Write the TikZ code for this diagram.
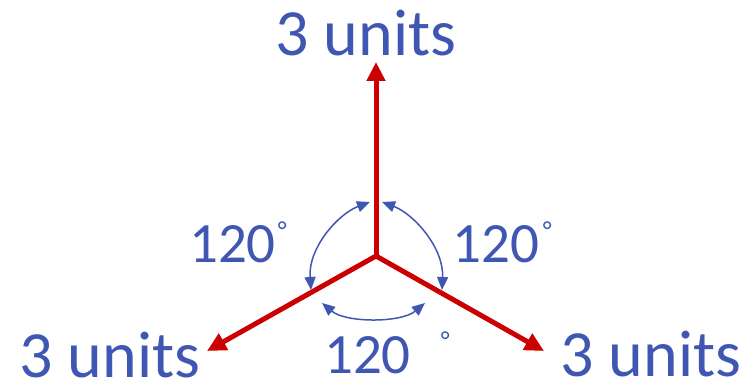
\documentclass[tikz,border=0pt]{standalone}
\usepackage{fontspec}
\setmainfont{Carlito}
\usetikzlibrary{arrows.meta}
\definecolor{lblue}{HTML}{3F57B2}
\definecolor{vred}{HTML}{CC0000}
\begin{document}
\begin{tikzpicture}[x=1pt,y=-1pt,
  vec/.style={vred,line width=5pt,-{Triangle[length=19pt,width=18pt]}},
  ang/.style={lblue,line width=1.5pt,{Triangle[length=13pt,width=11pt]}-{Triangle[length=13pt,width=11pt]}},
  unitlbl/.style={lblue,inner sep=0pt,anchor=base,font=\fontsize{66}{66}\selectfont},
  anglbl/.style={lblue,inner sep=0pt,anchor=base west,font=\fontsize{57}{57}\selectfont}]
\useasboundingbox (0,0) rectangle (748,385);
\coordinate (O) at (376,256);
\coordinate (T) at (376,62);
\coordinate (L) at (207,351);
\coordinate (R) at (544,351);
\draw[vec] (O) -- (T);
\draw[vec] (O) -- (L);
\draw[vec] (O) -- (R);
\coordinate (a1) at (370,202);
\coordinate (a2) at (311,290);
\coordinate (b1) at (382,202);
\coordinate (b2) at (442,290);
\coordinate (c1) at (322,303);
\coordinate (c2) at (425,303);
\draw[ang] (a1) .. controls (338,214) and (308,248) .. (a2);
\draw[ang] (b1) .. controls (414,214) and (444,248) .. (b2);
\draw[ang] (c1) .. controls (346,323) and (401,323) .. (c2);
\node[unitlbl] (tu) at (366,56) {3 units};
\node[unitlbl] (lu) at (110,377) {3 units};
\node[unitlbl] (ru) at (651,376) {3 units};
\node[anglbl] (la) at (189,263) {120\hspace{2pt}\raisebox{0.42em}{\fontsize{26}{26}\selectfont °}};
\node[anglbl] (ra) at (452,263) {120\hspace{4pt}\raisebox{0.42em}{\fontsize{26}{26}\selectfont °}};
\node[anglbl] (ba) at (324,373) {120\hspace{30pt}\raisebox{0.42em}{\fontsize{26}{26}\selectfont °}};
\end{tikzpicture}
\end{document}
